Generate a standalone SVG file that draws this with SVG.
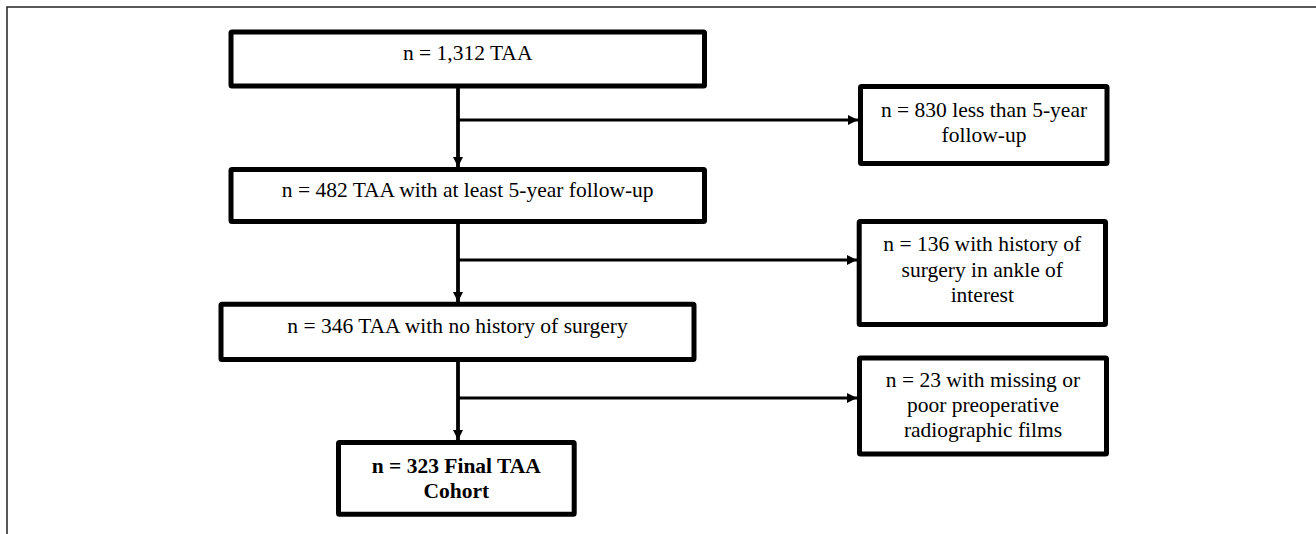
<svg xmlns="http://www.w3.org/2000/svg" width="1316" height="534" viewBox="0 0 1316 534">
<style>
.box{fill:#fff;stroke:#000;stroke-width:5}
.t{font-family:"Liberation Serif","Times New Roman",serif;font-size:21.5px;fill:#000;text-anchor:middle}
.b{font-weight:bold}
.c{stroke:#000;stroke-width:3.2;fill:none}
.v{stroke-width:3.8}
</style>
<defs>
<marker id="ah" viewBox="0 0 10 10" refX="10" refY="5" markerWidth="10" markerHeight="10" markerUnits="userSpaceOnUse" orient="auto">
<path d="M0,0 L10,5 L0,10 Z" fill="#000"/>
</marker>
</defs>
<rect width="1316" height="534" fill="#fff"/>
<path d="M7,534 L7,7 L1316,7" fill="none" stroke="#222" stroke-width="1.5"/>
<g id="connectors">
<line class="c v" x1="458" y1="88" x2="458" y2="167" marker-end="url(#ah)"/>
<line class="c" x1="458" y1="120" x2="858" y2="120" marker-end="url(#ah)"/>
<line class="c v" x1="458" y1="223" x2="458" y2="302" marker-end="url(#ah)"/>
<line class="c" x1="458" y1="260" x2="857" y2="260" marker-end="url(#ah)"/>
<line class="c v" x1="458" y1="361" x2="458" y2="440" marker-end="url(#ah)"/>
<line class="c" x1="458" y1="398" x2="857" y2="398" marker-end="url(#ah)"/>
</g>
<g id="n1">
<rect class="box" x="231" y="32" width="473.5" height="54" rx="1"/>
<text class="t" x="467.7" y="60">n = 1,312 TAA</text>
</g>
<g id="n2">
<rect class="box" x="231" y="169.5" width="473.5" height="52" rx="1"/>
<text class="t" x="467.7" y="197">n = 482 TAA with at least 5-year follow-up</text>
</g>
<g id="n3">
<rect class="box" x="221" y="304.2" width="473" height="55.3" rx="1"/>
<text class="t" x="457.5" y="333">n = 346 TAA with no history of surgery</text>
</g>
<g id="n4">
<rect class="box" x="338.5" y="442.5" width="235.7" height="71.7" rx="1"/>
<text class="t b" x="456.3" y="473">n = 323 Final TAA</text>
<text class="t b" x="456.3" y="498">Cohort</text>
</g>
<g id="r1">
<rect class="box" x="860.5" y="86.5" width="246.5" height="77" rx="1"/>
<text class="t" x="984" y="117">n = 830 less than 5-year</text>
<text class="t" x="984" y="142">follow-up</text>
</g>
<g id="r2">
<rect class="box" x="859.2" y="221.5" width="246.3" height="103" rx="1"/>
<text class="t" x="982.3" y="251">n = 136 with history of</text>
<text class="t" x="982.3" y="277">surgery in ankle of</text>
<text class="t" x="982.3" y="302">interest</text>
</g>
<g id="r3">
<rect class="box" x="859.5" y="358" width="247" height="96" rx="1"/>
<text class="t" x="983" y="387">n = 23 with missing or</text>
<text class="t" x="983" y="412">poor preoperative</text>
<text class="t" x="983" y="437">radiographic films</text>
</g>
</svg>
